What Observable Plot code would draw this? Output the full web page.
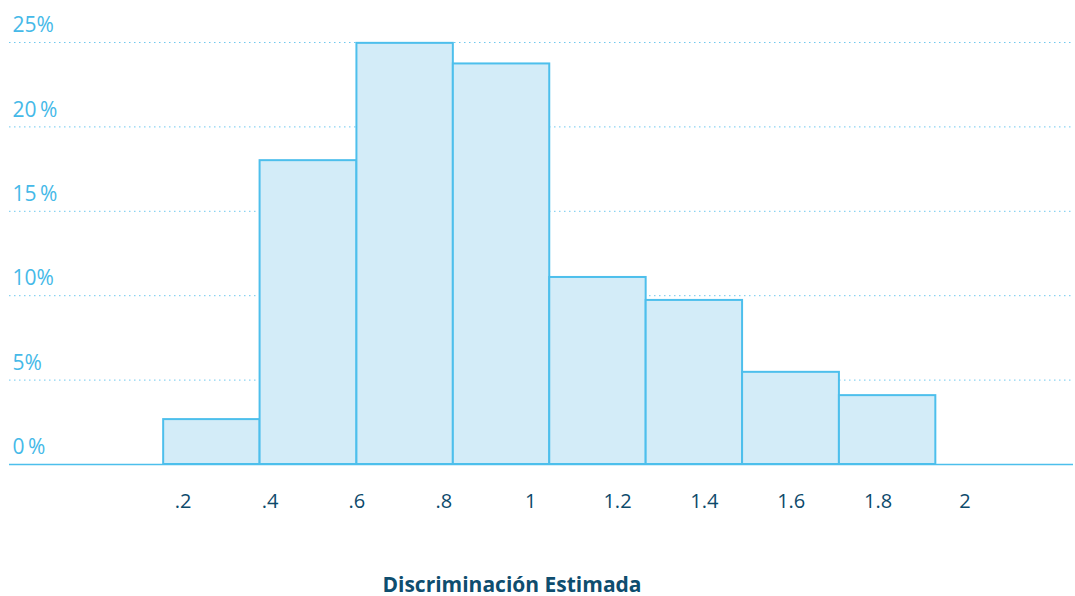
<!DOCTYPE html>
<html>
<head>
<meta charset="utf-8">
<script src="https://cdn.jsdelivr.net/npm/d3@7"></script>
<script src="https://cdn.jsdelivr.net/npm/@observablehq/plot@0.6"></script>
<style>
  body { margin: 0; background: #fff; font-family: "Open Sans", sans-serif; overflow: hidden; }
  #wrap { width: 1075px; }
  #title { width: 1024px; text-align: center; font-weight: 700; font-size: 21px; color: #0e4d6e; padding-top: 34px; line-height: 20px; height: 20px; }
</style>
</head>
<body>
<div id="wrap">
  <div id="chart"></div>
  <div id="title">Discriminación Estimada</div>
</div>
<script>
// Histogram bin edges (Discriminación estimada) and share of items per bin (%)
const binStart = [0.155, 0.377, 0.600, 0.822, 1.044, 1.266, 1.488, 1.711];
const binEnd   = [0.377, 0.600, 0.822, 1.044, 1.266, 1.488, 1.711, 1.933];
const share    = [2.66, 18.0, 24.95, 23.73, 11.08, 9.72, 5.46, 4.08];

const xTicks = [0.2, 0.4, 0.6, 0.8, 1, 1.2, 1.4, 1.6, 1.8, 2];
const xTickLabels = [".2", ".4", ".6", ".8", "1", "1.2", "1.4", "1.6", "1.8", "2"];
const yTicks = [0, 5, 10, 15, 20, 25];
const yTickLabels = ["0\u2009%", "5%", "10%", "15\u2009%", "20\u2009%", "25%"];

const bins = binStart.map((s, i) => ({x1: s, x2: binEnd[i], y: share[i]}));

const blue = "#4dbfec";
const chart = Plot.plot({
  width: 1075,
  height: 540,
  marginTop: 42,
  marginBottom: 76,
  marginLeft: 9,
  marginRight: 2,
  style: {fontFamily: "'Open Sans', sans-serif", background: "#fff"},
  x: {domain: [-0.2, 2.25]},
  y: {domain: [0, 25]},
  marks: [
    Plot.gridY(yTicks.filter(d => d > 0), {stroke: "#6ec8ee", strokeOpacity: 1, strokeWidth: 1, strokeDasharray: "1.5,3.5"}),
    Plot.rectY(bins, {x1: "x1", x2: "x2", y: "y", fill: "#d3ecf8", stroke: blue, strokeWidth: 2}),
    Plot.ruleY([0], {stroke: blue, strokeWidth: 1.5}),
    Plot.axisY({
      ticks: yTicks, tickSize: 0, tickPadding: 0, textAnchor: "start", dx: 3, dy: -17,
      tickFormat: d => yTickLabels[yTicks.indexOf(d)], fill: "#45b9e8", fontSize: 21, label: null
    }),
    Plot.axisX({
      ticks: xTicks, tickSize: 0, tickPadding: 29,
      tickFormat: d => xTickLabels[xTicks.indexOf(d)], fill: "#0d4a6b", fontSize: 20, label: null
    })
  ]
});
document.getElementById("chart").appendChild(chart);
</script>
</body>
</html>
